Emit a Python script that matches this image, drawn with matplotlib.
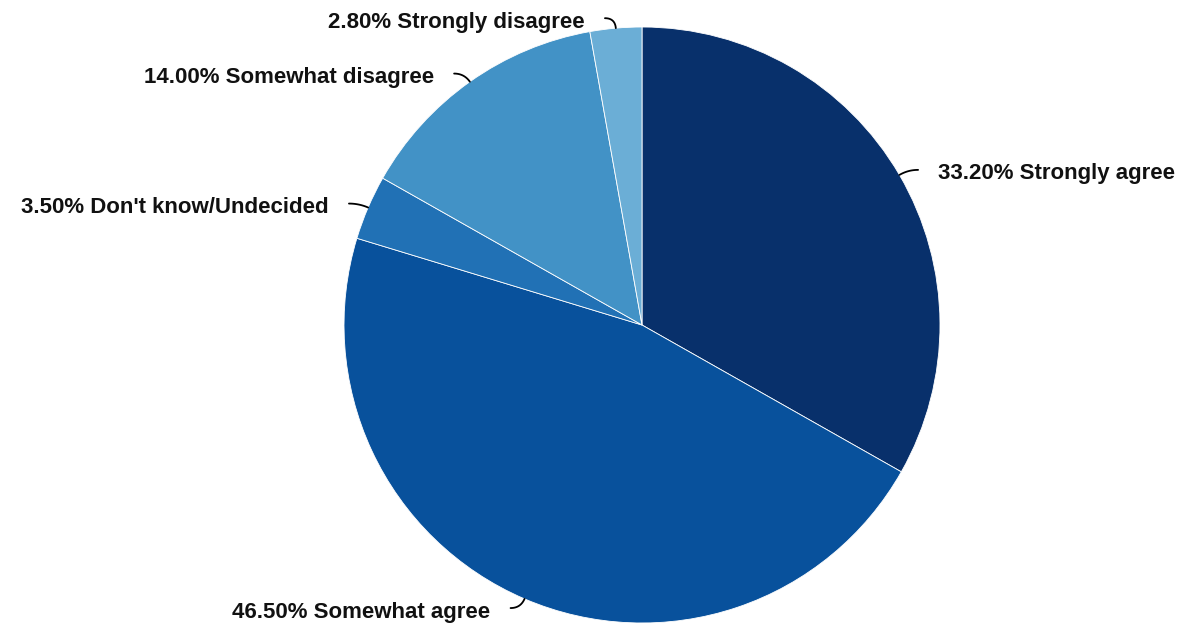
import matplotlib.pyplot as plt
import numpy as np

plt.rcParams["font.family"] = ["Liberation Sans", "DejaVu Sans"]

# data
labels = ["Strongly agree", "Somewhat agree", "Don't know/Undecided",
          "Somewhat disagree", "Strongly disagree"]
values = [33.2, 46.5, 3.5, 14.0, 2.8]
colors = ["#08306b", "#08519c", "#2171b5", "#4292c6", "#6baed6"]

W, H = 1189, 631
fig = plt.figure(figsize=(W / 100, H / 100), dpi=100)
ax = fig.add_axes([0, 0, 1, 1])

cx, cy, R = 642, 306, 298
wedges, _ = ax.pie(values, colors=colors, startangle=90, counterclock=False,
                   center=(cx, cy), radius=R, frame=True,
                   wedgeprops=dict(edgecolor="white", linewidth=0.6))
ax.set_xlim(0, W)
ax.set_ylim(0, H)
ax.set_aspect("equal")
ax.axis("off")

# connectors: short radial step bending into horizontal
t = np.linspace(0, 1, 20)
for w, lab, val in zip(wedges, labels, values):
    ang = np.deg2rad((w.theta1 + w.theta2) / 2)
    c, s = np.cos(ang), np.sin(ang)
    p0 = np.array([cx + R * c, cy + R * s])
    p1 = p0 + 10 * np.array([c, s])
    side = 1 if c > 0 else -1
    p2 = p1 + np.array([10 * side, 0])
    curve = ((1 - t)[:, None] ** 2 * p0 + 2 * ((1 - t) * t)[:, None] * p1
             + (t ** 2)[:, None] * p2)
    ax.plot(curve[:, 0], curve[:, 1], color="black", lw=1.3,
            solid_capstyle="round")
    ax.text(p2[0] + 20 * side, p2[1] - 4, f"{val:.2f}% {lab}",
            ha="left" if side > 0 else "right", va="center",
            fontsize=16, fontweight="bold", color="#111111")

fig.savefig("out.png", dpi=100)
